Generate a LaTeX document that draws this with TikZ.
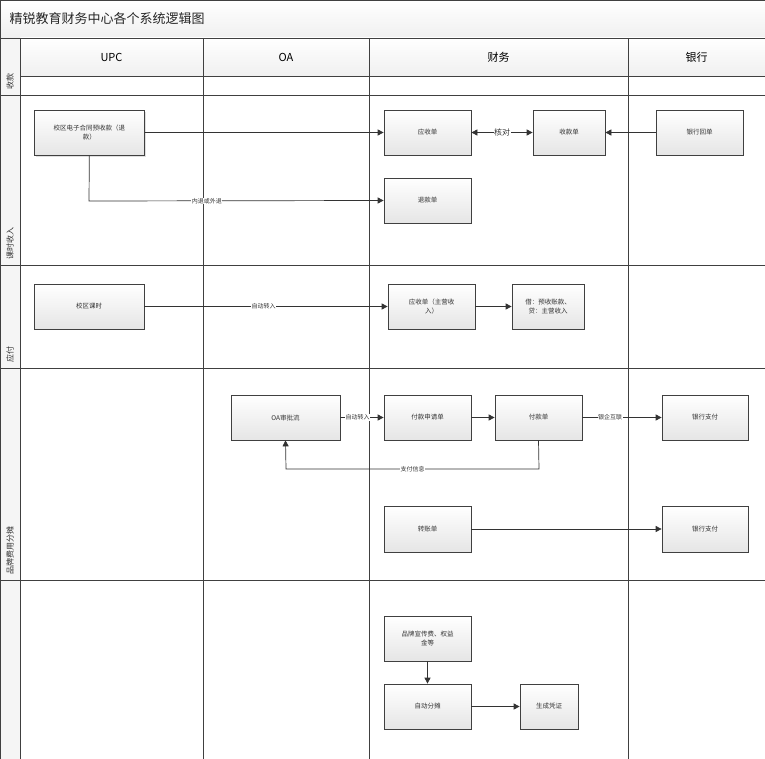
\documentclass[tikz,border=0pt]{standalone}
\usepackage{fontspec}
\setmainfont{Noto Sans CJK SC}
\usetikzlibrary{arrows.meta,shadows}
\begin{document}
\begin{tikzpicture}[x=1pt,y=-1pt,
 box/.style={draw=black!75,line width=0.7pt,top color=white,bottom color=black!10,drop shadow={shadow xshift=1.2pt,shadow yshift=-1.2pt,fill=black!25},align=center,font=\fontsize{6.5}{9}\selectfont,text=black!80,inner sep=1pt},
 arr/.style={draw=black!80,line width=0.7pt,-{Triangle[length=6pt,width=6pt]}},
 lbl/.style={fill=white,font=\fontsize{6}{7}\selectfont,inner sep=0.5pt,text=black!80},
 grid/.style={draw=black!75,line width=0.7pt},
 lane/.style={font=\fontsize{8}{9}\selectfont,rotate=90,anchor=west,text=black!80}]
\useasboundingbox (0,0) rectangle (765,759);
\fill[top color=white,bottom color=black!6] (0,0) rectangle (765,38);
\fill[top color=white,bottom color=black!6] (20,38) rectangle (765,76);
\fill[black!4] (0,38) rectangle (20,759);
\node[anchor=west,font=\fontsize{13}{14}\selectfont,text=black!85] (title) at (6,19) {精锐教育财务中心各个系统逻辑图};
\draw[grid] (0,0) rectangle (765,759);
\draw[grid] (0,38) -- (765,38);
\draw[grid] (20,76) -- (765,76);
\foreach \y in {95,265,368,580} \draw[grid] (0,\y) -- (765,\y);
\foreach \x in {20,203,369,628} \draw[grid] (\x,38) -- (\x,759);
\node[font=\fontsize{11}{12}\selectfont] (h1) at (111.5,57) {UPC};
\node[font=\fontsize{11}{12}\selectfont] (h2) at (286,57) {OA};
\node[font=\fontsize{11}{12}\selectfont] (h3) at (498.5,57) {财务};
\node[font=\fontsize{11}{12}\selectfont] (h4) at (696.5,57) {银行};
\node[lane] (l1) at (10,93) {收款};
\node[lane] (l2) at (10,263) {课时收入};
\node[lane] (l3) at (10,366) {应付};
\node[lane] (l4) at (10,578) {品牌费用分摊};

\node[box,minimum width=110pt,minimum height=45pt,text width=105pt,anchor=north west] (a1) at (34,110) {校区电子合同预收款（退\\款）\\[12pt]};
\node[box,minimum width=87pt,minimum height=45pt] (ys) at (427.5,132.5) {应收单};
\node[box,minimum width=72pt,minimum height=45pt] (sk) at (569,132.5) {收款单};
\node[box,minimum width=87pt,minimum height=45pt] (yh) at (699.5,132.5) {银行回单};
\node[box,minimum width=87pt,minimum height=45pt] (tk) at (427.5,200.5) {退款单};
\node[box,minimum width=110pt,minimum height=45pt] (ks) at (89,306.5) {校区课时};
\node[box,minimum width=87pt,minimum height=45pt,text width=80pt] (ys2) at (431.5,306.5) {应收单（主营收\\入）};
\node[box,minimum width=72pt,minimum height=45pt,text width=70pt] (jd) at (548,306.5) {借：预收账款、\\贷：主营收入};
\node[box,minimum width=109pt,minimum height=45pt] (oa) at (285.5,417.5) {OA审批流};
\node[box,minimum width=87pt,minimum height=45pt] (fs) at (427.5,417.5) {付款申请单};
\node[box,minimum width=87pt,minimum height=45pt] (fk) at (538.5,417.5) {付款单};
\node[box,minimum width=86pt,minimum height=45pt] (zf1) at (705,417.5) {银行支付};
\node[box,minimum width=87pt,minimum height=46pt] (zz) at (427.5,529) {转账单};
\node[box,minimum width=86pt,minimum height=46pt] (zf2) at (705,529) {银行支付};
\node[box,minimum width=87pt,minimum height=45pt,text width=84pt] (pp) at (427.5,638.5) {品牌宣传费、权益\\金等};
\node[box,minimum width=87pt,minimum height=45pt] (ft) at (427.5,706.5) {自动分摊};
\node[box,minimum width=58pt,minimum height=45pt] (pz) at (549,706.5) {生成凭证};

\draw[arr] (a1.east |- ys.west) -- (ys.west);
\draw[arr] (a1.south) -- (89,201) -- node[lbl,pos=0.4]{内退或外退} (tk.west);
\draw[arr,{Triangle[length=6pt,width=6pt]}-{Triangle[length=6pt,width=6pt]}] (ys) -- node[lbl,font=\fontsize{8}{9}\selectfont]{核对} (sk);
\draw[arr] (yh) -- (sk);
\draw[arr] (ks) -- node[lbl,pos=0.49]{自动转入} (ys2);
\draw[arr] (ys2) -- (jd);
\draw[arr] (oa) -- node[lbl,pos=0.4]{自动转入} (fs);
\draw[arr] (fs) -- (fk);
\draw[arr] (fk) -- node[lbl,pos=0.35]{银企互联} (zf1);
\draw[arr] (fk.south) -- (539,469) -- node[lbl]{支付信息} (286,469) -- (oa.south);
\draw[arr] (zz) -- (zf2);
\draw[arr] (pp) -- (ft);
\draw[arr] (ft) -- (pz);
\end{tikzpicture}
\end{document}
